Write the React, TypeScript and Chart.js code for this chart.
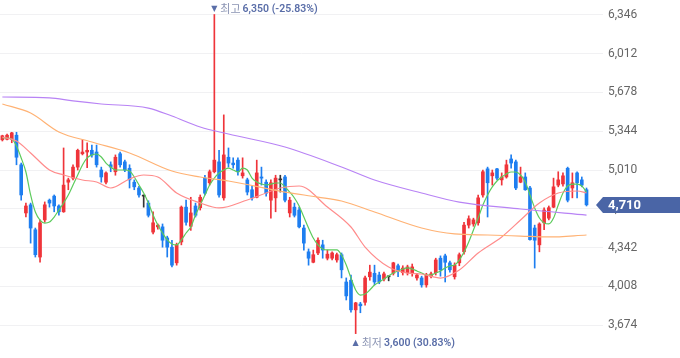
import React, { useEffect, useRef } from "react";
import { Chart, registerables } from "chart.js";
Chart.register(...registerables);

const opens = [5270,5275,5275,5310,5055,4640,4710,4495,4260,4580,4750,4785,4700,4650,4905,4940,5035,5150,5165,5180,5165,5010,4905,5055,4995,5150,5080,5025,4905,4855,4785,4725,4475,4520,4520,4425,4345,4210,4390,4690,4525,4700,4685,4940,4900,4995,5080,4770,5120,5070,5095,4960,4925,4840,4775,4950,4905,4750,4770,4925,4950,4640,4690,4665,4510,4305,4215,4295,4365,4250,4250,4235,4280,4045,4060,3805,3855,3870,4090,4120,4105,4070,4090,4120,4185,4125,4125,4125,4080,4080,4020,4095,4125,4250,4270,4210,4090,4210,4305,4535,4545,4555,4795,5020,4960,5020,4925,4950,5105,5080,4905,4950,4855,4510,4365,4555,4595,4690,4880,4890,5025,4855,4985,4925,4840];
const highs = [5310,5320,5335,5335,5070,4725,4725,4510,4580,4735,4760,4795,4710,5200,4940,5055,5190,5270,5245,5225,5225,5035,4995,5080,5140,5165,5095,5055,4925,4870,4795,4745,4650,4545,4545,4440,4405,4380,4700,4750,4775,4725,4795,4965,5010,6350,5180,5485,5200,5115,5115,5115,4940,4870,5095,5035,4925,4925,4965,4965,4965,4775,4725,4690,4535,4330,4320,4425,4405,4320,4305,4295,4295,4080,4105,3870,3870,4095,4190,4190,4130,4130,4095,4215,4200,4185,4190,4200,4120,4095,4120,4130,4250,4270,4285,4225,4210,4295,4560,4615,4595,4795,5010,5035,5010,5025,4985,5095,5140,5095,5035,4985,4870,4535,4555,4685,4700,4940,4995,4985,5035,4985,4995,4950,4855];
const lows = [5260,5270,5245,5055,4750,4605,4380,4260,4215,4560,4690,4650,4620,4645,4840,4925,5010,5140,5030,5120,5035,4905,4890,4995,4965,5035,4995,4855,4840,4775,4690,4605,4460,4500,4345,4260,4175,4190,4365,4535,4490,4605,4665,4795,4880,4985,4775,4750,5035,5025,4965,4940,4795,4750,4770,4880,4785,4595,4650,4820,4735,4605,4605,4510,4320,4190,4210,4280,4250,4235,4235,4215,4080,3890,3785,3600,3780,3845,4060,4020,4030,4055,4055,4105,4090,4105,4105,4095,4060,4000,4000,4080,4105,4095,4045,4130,4070,4185,4285,4510,4525,4535,4775,4605,4880,4925,4880,4940,5025,4840,4900,4835,4405,4165,4305,4495,4580,4685,4865,4870,4735,4770,4770,4865,4700];
const closes = [5305,5310,5330,5120,4795,4700,4510,4280,4555,4710,4725,4700,4650,4880,4925,5035,5180,5165,5180,5140,5055,4950,4985,5035,5120,5055,5010,4925,4865,4795,4785,4620,4555,4535,4405,4345,4190,4365,4690,4560,4640,4620,4775,4810,4995,5095,4795,5140,5070,5055,4995,4985,4820,4770,4985,4940,4810,4900,4940,4925,4750,4750,4620,4520,4380,4250,4280,4405,4320,4285,4295,4280,4150,3925,3805,3865,3840,4080,4130,4045,4045,4115,4090,4210,4150,4165,4175,4175,4105,4020,4105,4115,4235,4150,4215,4150,4190,4280,4535,4590,4580,4770,4995,4900,4985,4940,4950,5055,5070,4855,4950,4840,4410,4405,4545,4665,4685,4865,4925,4960,4750,4900,4900,4880,4710];

const ma5 = [5286,5286,5277,5217,5114,4993,4795,4648,4579,4553,4562,4605,4665,4726,4795,4881,4967,5053,5114,5139,5148,5122,5070,5036,5010,5010,5010,5001,4950,4881,4812,4726,4622,4536,4467,4407,4372,4364,4407,4467,4519,4622,4708,4795,4881,4941,4984,5010,5027,5010,4993,5027,5010,4941,4907,4889,4881,4889,4898,4898,4864,4820,4769,4700,4605,4510,4424,4364,4329,4321,4321,4321,4278,4191,4079,3976,3932,3941,3976,4019,4045,4071,4097,4122,4140,4157,4166,4157,4140,4122,4105,4105,4122,4140,4166,4183,4191,4234,4303,4390,4493,4596,4708,4795,4864,4915,4950,4976,4993,4993,4967,4907,4795,4683,4596,4553,4545,4596,4708,4812,4872,4889,4889,4872,4820];
// [index, value] readings of the slower averages
const ma20 = [[0,5294],[3,5260],[6,5157],[10,5010],[13,4967],[17,4924],[20,4907],[23,4855],[27,4933],[30,4967],[33,4950],[37,4812],[42,4726],[46,4683],[52,4752],[56,4812],[59,4855],[63,4872],[69,4691],[74,4519],[77,4346],[82,4174],[86,4122],[89,4114],[93,4079],[97,4148],[101,4295],[106,4433],[110,4579],[114,4726],[118,4812],[122,4829],[124,4812]];
const ma60 = [[0,5579],[6,5501],[12,5338],[19,5251],[27,5157],[36,5001],[42,4950],[48,4915],[60,4820],[67,4777],[72,4743],[79,4648],[89,4510],[96,4459],[103,4450],[110,4441],[116,4433],[124,4450]];
const ma120 = [[0,5639],[10,5631],[15,5605],[21,5579],[31,5544],[36,5475],[42,5381],[48,5320],[60,5208],[72,5036],[79,4924],[89,4812],[97,4734],[110,4674],[124,4622]];

const yTicks = [3674, 4008, 4342, 4676, 5010, 5344, 5678, 6012, 6346];
const SLOTS = 128;

const RED = "#ef343a";
const BLUE = "#1e7ef0";
const DOJI = "#333333";

const fmt = (v: number) => v.toLocaleString("en-US");

function sparse(points: number[][]) {
  const arr: (number | null)[] = new Array(closes.length).fill(null);
  points.forEach(([i, v]) => (arr[i] = v));
  return arr;
}

const overlay = {
  id: "overlay",
  afterDraw(chart: any) {
    const { ctx, chartArea, scales } = chart;
    const xs = scales.x;
    const ys = scales.y;
    ctx.save();
    const last = closes[closes.length - 1];
    const py = Math.round(ys.getPixelForValue(last));
    const left = chartArea.right;
    ctx.fillStyle = "#4a65a6";
    ctx.beginPath();
    ctx.moveTo(left - 7, py);
    ctx.lineTo(left, py - 8);
    ctx.lineTo(680, py - 8);
    ctx.lineTo(680, py + 8);
    ctx.lineTo(left, py + 8);
    ctx.closePath();
    ctx.fill();
    ctx.fillStyle = "#ffffff";
    ctx.font = "bold 13px Roboto, 'Noto Sans', sans-serif";
    ctx.textBaseline = "middle";
    ctx.textAlign = "left";
    ctx.fillText(fmt(last), left + 5, py + 1);

    const note = (idx: number, y: number, tri: string, label: string, val: number) => {
      const cx = xs.getPixelForValue(idx);
      const pct = ((last - val) / val) * 100;
      const text = `${fmt(val)} (${pct.toFixed(2)}%)`;
      ctx.textBaseline = "middle";
      ctx.textAlign = "center";
      ctx.fillStyle = "#5a6ea8";
      ctx.font = "8px 'DejaVu Sans', sans-serif";
      ctx.fillText(tri, cx, y);
      ctx.textAlign = "left";
      ctx.fillStyle = "#8b94b3";
      ctx.font = "11px 'Noto Sans CJK KR', sans-serif";
      const lx = cx + 6;
      ctx.fillText(label, lx, y);
      const lw = ctx.measureText(label).width;
      ctx.fillStyle = "#5a6ea8";
      ctx.font = "600 10.5px Roboto, 'Noto Sans', sans-serif";
      ctx.fillText(text, lx + lw + 2, y);
    };
    const hi = Math.max(...highs);
    const lo = Math.min(...lows);
    note(highs.indexOf(hi), 9, "▼", "최고", hi);
    note(lows.indexOf(lo), 343, "▲", "최저", lo);
    ctx.restore();
  },
};

export default function App() {
  const ref = useRef<HTMLCanvasElement>(null);
  useEffect(() => {
    if (!ref.current) return;
    const labels = Array.from({ length: SLOTS }, (_, i) => String(i));
    const colorOf = (i: number) =>
      closes[i] > opens[i] ? RED : closes[i] < opens[i] ? BLUE : DOJI;
    const colors = closes.map((_, i) => colorOf(i));
    const lineDs = (label: string, data: (number | null)[], color: string) => ({
      type: "line" as const,
      label,
      data,
      borderColor: color,
      borderWidth: 1.2,
      pointRadius: 0,
      spanGaps: true,
      cubicInterpolationMode: "monotone" as const,
      order: 1,
    });
    const chart = new Chart(ref.current, {
      type: "bar",
      data: {
        labels,
        datasets: [
          lineDs("MA120", sparse(ma120), "#b883f5"),
          lineDs("MA60", sparse(ma60), "#ffb274"),
          lineDs("MA20", sparse(ma20), "#ff8c8c"),
          lineDs("MA5", ma5, "#5ccb5c"),
          {
            type: "bar",
            label: "wick",
            data: closes.map((_, i) => [lows[i], highs[i]]) as any,
            backgroundColor: colors,
            barThickness: 1,
            grouped: false,
            borderWidth: 0,
            order: 3,
          } as any,
          {
            type: "bar",
            label: "body",
            data: closes.map((c, i) => [opens[i], c]) as any,
            backgroundColor: colors,
            barThickness: 3,
            minBarLength: 1,
            grouped: false,
            borderWidth: 0,
            order: 2,
          } as any,
        ],
      },
      options: {
        responsive: false,
        animation: false,
        layout: { padding: 0, autoPadding: false },
        plugins: { legend: { display: false }, tooltip: { enabled: false } },
        scales: {
          x: { display: false, offset: true },
          y: {
            position: "right",
            min: 3390,
            max: 6475,
            border: { display: false },
            grid: { color: "#f1f1f3", drawTicks: false },
            ticks: {
              padding: 5,
              color: "#666666",
              font: { family: "Roboto, 'Noto Sans', sans-serif", size: 12 },
              callback: (v: any) => fmt(Number(v)),
            },
            afterBuildTicks: (s: any) => {
              s.ticks = yTicks.map((v) => ({ value: v }));
            },
            afterFit: (s: any) => {
              s.width = 77;
              s.paddingTop = 0;
              s.paddingBottom = 0;
            },
          },
        },
      },
      plugins: [overlay],
    });
    return () => chart.destroy();
  }, []);
  return (
    <div style={{ position: "fixed", left: 0, top: 0, width: 680, height: 358, background: "#fff" }}>
      <canvas ref={ref} width={680} height={358} style={{ display: "block" }} />
    </div>
  );
}
